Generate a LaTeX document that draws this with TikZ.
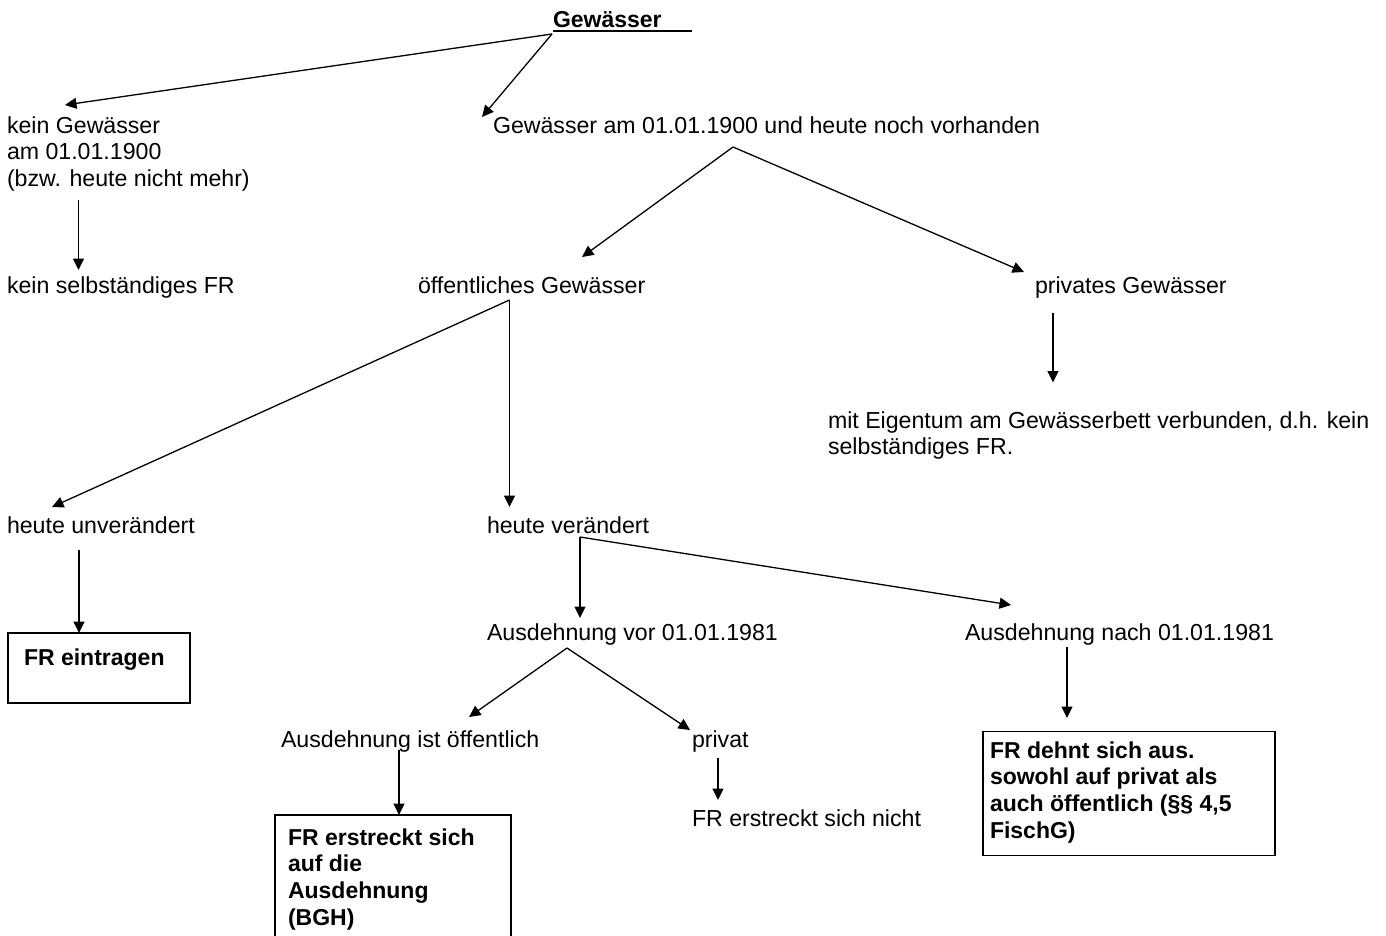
\documentclass[tikz,border=0pt]{standalone}
\usepackage{fontspec}
\setmainfont{Liberation Sans}
\usetikzlibrary{arrows.meta}
\begin{document}
\begin{tikzpicture}[x=1pt,y=-1pt,
  every node/.style={inner sep=0pt, outer sep=0pt},
  txt/.style={anchor=north west, align=left, font=\fontsize{23.15}{26.5}\selectfont},
  btxt/.style={anchor=north west, align=left, font=\fontsize{23}{26.7}\selectfont\bfseries},
  boxs/.style={draw, line width=1.4pt, anchor=north west},
  arr/.style={line width=1.3pt, -{Triangle[length=11.5pt,width=11pt]}},
]
\path[use as bounding box, clip] (0,0) rectangle (1386,935);
\fill[white] (0,0) rectangle (1386,935);

% texts (top = baseline - 18.5)
\node[btxt] (g) at (553,8.5) {\strut Gewässer};
\draw[line width=2pt] (553,30.5) -- (692,30.5);
\node[txt] (k1) at (7,114.5) {\strut kein Gewässer\\am 01.01.1900\\(bzw. heute nicht mehr)};
\node[txt] (k2) at (7,274.5) {\strut kein selbständiges FR};
\node[txt] (gv) at (493,114.5) {\strut Gewässer am 01.01.1900 und heute noch vorhanden};
\node[txt] (oe) at (418,274.5) {\strut öffentliches Gewässer};
\node[txt] (pg) at (1035,274.5) {\strut privates Gewässer};
\node[txt] (me) at (828,409.5) {\strut mit Eigentum am Gewässerbett verbunden, d.h. kein\\selbständiges FR.};
\node[txt] (hu) at (7,514.5) {\strut heute unverändert};
\node[txt] (hv) at (487,514.5) {\strut heute verändert};
\node[txt] (av) at (487,621.5) {\strut Ausdehnung vor 01.01.1981};
\node[txt] (an) at (965,622) {\strut Ausdehnung nach 01.01.1981};
\node[txt] (ai) at (281,728.5) {\strut Ausdehnung ist öffentlich};
\node[txt] (pv) at (692,728.5) {\strut privat};
\node[txt] (fn) at (692,808) {\strut FR erstreckt sich nicht};

% boxes
\node[boxs, minimum width=182, minimum height=70] (b1) at (8,633) {};
\node[btxt] (b1t) at (24,646.5) {\strut FR eintragen};
\node[boxs, minimum width=236, minimum height=140] (b2) at (275,815) {};
\node[btxt] (b2t) at (288,826.5) {\strut FR erstreckt sich\\auf die\\Ausdehnung\\(BGH)};
\node[boxs, minimum width=292, minimum height=124] (b3) at (983,731.5) {};
\node[btxt] (b3t) at (990,739.5) {\strut FR dehnt sich aus.\\sowohl auf privat als\\auch öffentlich (§§ 4,5\\FischG)};

% connector points
\coordinate (gA) at (552,34);
\coordinate (k1T) at (65,105);
\coordinate (gvT) at (482,117);
\coordinate (k1B) at (78.5,200);
\coordinate (k2T) at (78.5,270);
\coordinate (gvA) at (733,147);
\coordinate (oeT) at (582,257);
\coordinate (pgT) at (1024,272);
\coordinate (pgB) at (1053,313);
\coordinate (meT) at (1053,382.5);
\coordinate (oeA) at (509.5,300);
\coordinate (huT) at (52,507);
\coordinate (hvT) at (509.5,507);
\coordinate (huB) at (79,550);
\coordinate (b1T) at (79,633);
\coordinate (hvA) at (580,537);
\coordinate (avT) at (580,618);
\coordinate (anT) at (1011,605);
\coordinate (avA) at (567,648);
\coordinate (aiT) at (469,717);
\coordinate (pvT) at (690,730);
\coordinate (aiB) at (399,750);
\coordinate (b2T) at (399,815);
\coordinate (pvB) at (718,758);
\coordinate (fnT) at (718,800);
\coordinate (anB) at (1067,647);
\coordinate (b3T) at (1067,718);

\draw[arr] (gA) -- (k1T);
\draw[arr] (gA) -- (gvT);
\draw[arr] (k1B) -- (k2T);
\draw[arr] (gvA) -- (oeT);
\draw[arr] (gvA) -- (pgT);
\draw[arr] (pgB) -- (meT);
\draw[arr] (oeA) -- (huT);
\draw[arr] (oeA) -- (hvT);
\draw[arr] (huB) -- (b1T);
\draw[arr] (hvA) -- (avT);
\draw[arr] (hvA) -- (anT);
\draw[arr] (avA) -- (aiT);
\draw[arr] (avA) -- (pvT);
\draw[arr] (aiB) -- (b2T);
\draw[arr] (pvB) -- (fnT);
\draw[arr] (anB) -- (b3T);
\end{tikzpicture}
\end{document}
